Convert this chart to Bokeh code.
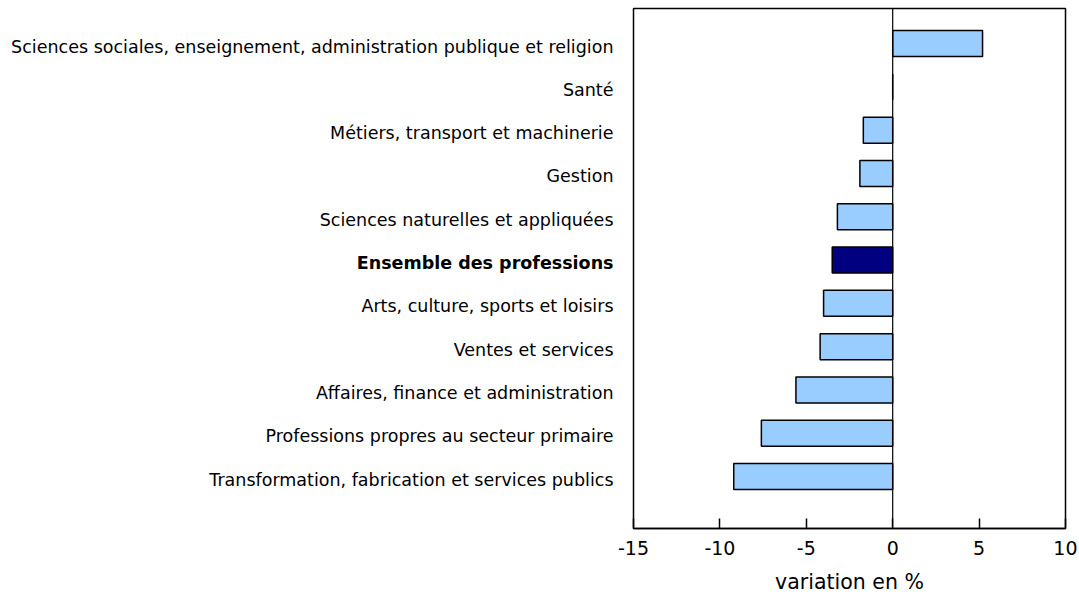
from bokeh.plotting import figure
from bokeh.models import Range1d, ColumnDataSource, Span, FixedTicker
from bokeh.layouts import row
from bokeh.core.properties import value
from bokeh.embed import file_html
from bokeh.resources import INLINE

categories = [
    "Sciences sociales, enseignement, administration publique et religion",
    "Santé",
    "Métiers, transport et machinerie",
    "Gestion",
    "Sciences naturelles et appliquées",
    "Ensemble des professions",
    "Arts, culture, sports et loisirs",
    "Ventes et services",
    "Affaires, finance et administration",
    "Professions propres au secteur primaire",
    "Transformation, fabrication et services publics",
]
values = [5.2, 0.0, -1.7, -1.9, -3.2, -3.5, -4.0, -4.2, -5.6, -7.6, -9.2]
highlight = "Ensemble des professions"
x_ticks = [-15, -10, -5, 0, 5, 10]
x_tick_labels = ["-15", "-10", "-5", "0", "5", "10"]
x_title = "variation en %"

FONT = "DejaVu Sans"
H = 600
TOP = 8
BOTTOM = 72
LABEL_W = 616
MAIN_LEFT = 17

n = len(categories)
ypos = [n - 1 - i for i in range(n)]
colors = ["#000080" if c == highlight else "#99CCFF" for c in categories]
styles = ["bold" if c == highlight else "normal" for c in categories]

src = ColumnDataSource(dict(y=ypos, v=values, c=colors, cat=categories,
                            st=styles, lx=[LABEL_W - 3] * n))

yr = Range1d(-1.2, n - 1 + 0.81)

# label panel
lab = figure(width=LABEL_W, height=H, x_range=Range1d(0, LABEL_W), y_range=yr,
             x_axis_location=None, y_axis_location=None,
             output_backend="svg", toolbar_location=None,
             min_border_left=0, min_border_right=0,
             min_border_top=TOP, min_border_bottom=BOTTOM)
lab.outline_line_color = None
lab.grid.visible = False
lab.text(x="lx", y="y", text="cat", source=src, text_align="right",
         text_baseline="middle", text_font=value(FONT), text_font_size="17.5px",
         text_font_style="st", text_color="black", y_offset=3)

# main panel
p = figure(width=MAIN_LEFT + 432 + 12, height=H, x_range=Range1d(-15, 10),
           y_range=yr, y_axis_location=None,
           output_backend="svg", toolbar_location=None,
           min_border_left=MAIN_LEFT, min_border_right=12,
           min_border_top=TOP, min_border_bottom=BOTTOM)
p.outline_line_color = "black"
p.outline_line_width = 1.5
p.grid.visible = False

p.hbar(y="y", right="v", left=0, height=0.6, source=src,
       fill_color="c", line_color="black", line_width=1.5)
p.add_layout(Span(location=0, dimension="height", line_color="black",
                  line_width=1.2))

ax = p.xaxis[0]
ax.ticker = FixedTicker(ticks=x_ticks)
ax.major_label_overrides = {t: l for t, l in zip(x_ticks, x_tick_labels)}
ax.major_tick_in = 10
ax.major_tick_out = 0
ax.major_tick_line_color = "black"
ax.major_tick_line_width = 1.5
ax.minor_tick_line_color = None
ax.axis_line_color = "black"
ax.axis_line_width = 1.5
ax.major_label_text_font = FONT
ax.major_label_text_font_size = "19px"
ax.major_label_text_color = "black"
ax.major_label_standoff = 12
ax.axis_label = x_title
ax.axis_label_text_font = FONT
ax.axis_label_text_font_size = "20.5px"
ax.axis_label_text_font_style = "normal"
ax.axis_label_text_color = "black"
ax.axis_label_standoff = 12

layout = row(lab, p, spacing=0)
open("out.html", "w").write(file_html(layout, INLINE))
